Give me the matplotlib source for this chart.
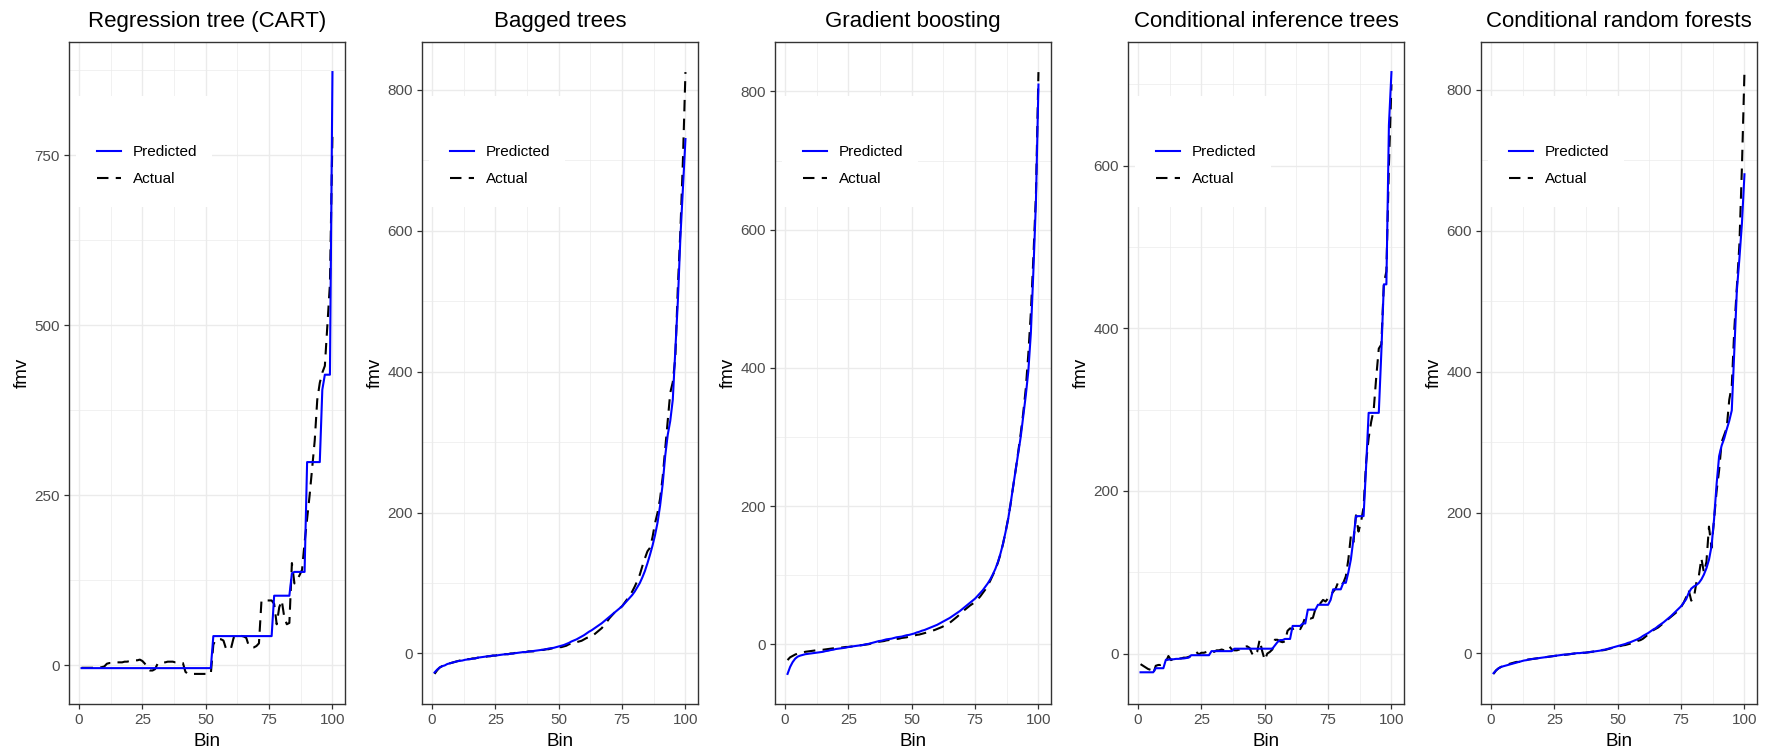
import matplotlib
matplotlib.use("Agg")
import matplotlib.pyplot as plt
from matplotlib.ticker import MultipleLocator
from matplotlib.lines import Line2D
from matplotlib.patches import Rectangle

plt.rcParams['font.family'] = ['Liberation Sans', 'DejaVu Sans']

bins = list(range(1, 101))

titles = ["Regression tree (CART)", "Bagged trees", "Gradient boosting",
          "Conditional inference trees", "Conditional random forests"]

cart_pred = ([-4.5] * 52 + [42.6] * 24 + [102] * 7 + [135] + [137] * 5 + [298.5] * 6
             + [405, 427, 427, 427, 872])
cart_act = [-4, -4, -4, -4, -4, -4, -4, -4, -3, -2,
            2, 3, 3, 3, 4, 4, 4, 5, 5, 6,
            6, 7, 7, 8, 6, 2, -5, -8, -8, -6,
            2, 4, 4, 4, 5, 5, 5, 4, 4, 3,
            3, -10, -13, -13, -13, -13, -13, -13, -13, -13,
            -13, -13, 30, 38, 38, 38, 36, 24, 22, 25,
            40, 43, 43, 43, 42, 40, 28, 26, 26, 28,
            32, 95, 95, 95, 95, 95, 90, 60, 85, 95,
            70, 60, 62, 150, 120, 125, 132, 140, 180, 215,
            250, 290, 330, 390, 415, 430, 440, 500, 560, 780]

bag_pred = [-27, -23, -20, -18, -17, -15, -14, -13, -12, -11,
            -10.5, -10, -9, -8.5, -8, -7.5, -7, -6, -5.5, -5,
            -4.5, -4, -3.5, -3, -3, -2.5, -2, -1.5, -1, -1,
            -0.5, 0, 0.5, 1, 1.5, 2, 2, 2.5, 3, 3.5,
            4, 4.5, 5, 5.5, 6, 7, 7.5, 8, 9, 10,
            11, 12, 13.5, 15, 17, 18.5, 20, 22, 24, 26,
            28.5, 31, 33, 35.5, 38, 40.5, 43, 46, 49, 52,
            55, 58, 61, 64, 67, 71, 75, 79, 83, 88,
            94, 100, 108, 117, 128, 140, 153, 168, 186, 210,
            240, 280, 310, 330, 360, 430, 500, 590, 660, 730]
bag_act = [-29, -24, -20, -18, -16, -15, -14, -13, -12, -11,
           -10, -10, -9, -8, -8, -7, -7, -6, -6, -5,
           -5, -4, -4, -3, -3, -2, -2, -2, -1, -1,
           0, 0, 1, 1, 1, 2, 2, 3, 3, 3,
           4, 4, 5, 5, 6, 6, 7, 7, 8, 9,
           9, 10, 11, 13, 14, 14, 16, 17, 18, 20,
           22, 23, 24, 27, 30, 33, 36, 41, 45, 50,
           54, 58, 61, 64, 67, 72, 77, 82, 88, 95,
           103, 112, 124, 135, 145, 150, 165, 185, 200, 220,
           250, 290, 330, 370, 385, 420, 520, 600, 700, 825]

gb_pred = [-43, -33, -26, -21, -18, -16.5, -15.5, -14.5, -14, -13.5,
           -13, -12.5, -12, -11.5, -11, -10, -9.5, -8.5, -8, -7,
           -6.5, -6, -5.5, -5, -4, -3.5, -3, -2.5, -2, -1.5,
           -1, 0, 0.5, 1.5, 2.5, 3.5, 4.5, 5, 6, 7,
           7.5, 8, 9, 10, 10.5, 11, 12, 13, 13.5, 14.5,
           15.5, 17, 18, 19.5, 20.5, 22, 23.5, 25, 26.5, 28,
           30, 32, 34, 36, 38, 40.5, 43, 45.5, 48, 51,
           54, 57, 60, 63, 66, 70, 74, 78, 83, 88,
           94, 101, 109, 119, 131, 145, 162, 180, 203, 228,
           252, 276, 300, 330, 360, 395, 450, 540, 640, 810]
gb_act = [-23, -19, -17, -15, -13.5, -12.5, -12, -11, -10.5, -10,
          -9.5, -9, -8.5, -8, -8, -7.5, -7, -6.5, -6, -5.5,
          -5, -5, -4.5, -4, -4, -3.5, -3, -2.5, -2, -1.5,
          -1, -0.5, 0, 1, 1.5, 2.5, 3.5, 4, 4.5, 5.5,
          6, 6.5, 7, 7.5, 8, 9, 9.5, 10, 11, 11.5,
          12.5, 13.5, 14, 15, 16, 17, 18, 19.5, 20.5, 22,
          23.5, 25, 27, 29, 31, 34, 37, 40, 43.5, 47,
          50, 53, 56, 58.5, 61, 65, 69, 74, 79, 85,
          92, 100, 108, 118, 130, 145, 162, 181, 203, 228,
          252, 278, 305, 335, 370, 420, 480, 560, 650, 828]

cit_pred = [-23, -23, -23, -23, -23, -23, -18, -18, -18, -18,
            -7.5, -7.5, -7, -7, -6.5, -6.5, -6, -6, -5.5, -5,
            -2, -2, -2, -2, -2, -2, -2, -2, 3, 3,
            3, 3, 3, 3, 3, 3, 3, 6, 6, 6,
            6, 6, 6, 6, 6, 6, 6, 6, 6, 6,
            6, 6, 6, 10, 14, 16.6, 16.6, 18, 18, 18,
            34, 34, 34, 34, 37, 37, 54, 54, 54, 54,
            60, 60, 60, 60, 60, 66, 79, 79, 79, 79,
            87, 87, 100, 116, 141, 169, 169, 169, 169, 230,
            296, 296, 296, 296, 296, 370, 454, 454, 650, 715]
cit_act = [-13, -15, -17, -19, -20, -25, -15, -14, -14, -13,
           -10, -3, -8, -7, -6, -6, -6, -5, -5, -4,
           -3, 0, 2, -1, 1, 1, 2, 2, 3, 2,
           4, 4, 5, 4, 6, 9, 5, 4, 4, 5,
           8, 8, 9, 7, 0, -3, 2, 17, 3, -8,
           0, 2, 5, 17, 17, 15, 14, 15, 28, 31,
           30, 32, 33, 30, 36, 45, 44, 43, 44, 55,
           58, 62, 66, 64, 68, 72, 76, 80, 88, 84,
           87, 95, 116, 145, 137, 170, 150, 162, 180, 235,
           265, 285, 300, 340, 375, 380, 455, 470, 600, 700]

crf_pred = [-28, -24, -21, -19, -18, -17, -16, -15, -14, -13,
            -12, -11, -10, -9.5, -8.5, -8, -7.5, -7, -6.5, -6,
            -5.5, -5, -4.5, -4, -3.5, -3, -2.5, -2, -1.5, -1.5,
            -1, -0.5, 0, 0.5, 0.5, 1, 1, 1.5, 2, 2.5,
            3, 3.5, 4, 5, 5.5, 6.5, 7.5, 8.5, 9.5, 10.5,
            11.5, 12.5, 13.5, 15, 16, 17.5, 19, 20.5, 22.5, 25,
            27, 29, 31.5, 34, 36, 39, 41.5, 44, 47, 50,
            53, 56.5, 60, 63.5, 67, 72, 77, 86, 92, 95,
            97, 100, 105, 112, 121, 133, 152, 190, 240, 280,
            295, 305, 318, 330, 345, 430, 515, 560, 610, 680]
crf_act = [-29, -24, -21, -19, -18, -16, -15, -14, -13, -12,
           -12, -11, -10, -9, -8.5, -8, -7.5, -7, -6.5, -6,
           -5.5, -5, -4.5, -4, -3.5, -3, -2.5, -2, -2, -1.5,
           -1, -0.5, 0, 0, 0.5, 1, 1, 1.5, 2, 2.5,
           3, 3.5, 4, 4.5, 5, 6, 7, 8, 9, 10,
           10.5, 11.5, 12, 13, 14, 15.5, 16, 18, 19, 21,
           24, 27, 30, 33, 35, 37, 40, 43, 46, 49,
           52, 55, 58, 61, 66, 72, 80, 90, 75, 78,
           100, 110, 135, 115, 130, 180, 150, 190, 230, 260,
           300, 310, 320, 360, 380, 460, 520, 580, 690, 825]

predicted = [cart_pred, bag_pred, gb_pred, cit_pred, crf_pred]
actual = [cart_act, bag_act, gb_act, cit_act, crf_act]
y_major = [250, 200, 200, 200, 200]

W, H = 1773, 749
fig = plt.figure(figsize=(W / 100, H / 100), dpi=100)
fig.patch.set_facecolor('white')

lefts = [69, 422, 775, 1128, 1481]
aw, top, bottom = 276, 42, 704
LW = 1.5
DASH = (5.5, 3.5)

for i in range(5):
    ax = fig.add_axes([lefts[i] / W, (H - bottom) / H, aw / W, (bottom - top) / H])
    ax.plot(bins, actual[i], color='black', lw=LW, dashes=DASH, zorder=3)
    ax.plot(bins, predicted[i], color='#0000FF', lw=LW, zorder=4)
    ax.margins(0.05)
    ax.xaxis.set_major_locator(MultipleLocator(25))
    ax.xaxis.set_minor_locator(MultipleLocator(12.5))
    ax.yaxis.set_major_locator(MultipleLocator(y_major[i]))
    ax.yaxis.set_minor_locator(MultipleLocator(y_major[i] / 2))
    ax.grid(True, which='major', color='#EBEBEB', lw=1.0, zorder=0)
    ax.grid(True, which='minor', color='#EBEBEB', lw=0.5, zorder=0)
    ax.set_axisbelow(True)
    for s in ax.spines.values():
        s.set_color('#333333')
        s.set_linewidth(1.0)
    ax.tick_params(which='major', length=3.5, width=0.9, color='#333333',
                   labelcolor='#4D4D4D', labelsize=11, pad=3)
    ax.tick_params(which='minor', length=0)
    ax.set_title(titles[i], fontsize=16, pad=11, color='black')
    ax.set_xlabel('Bin', fontsize=13.5, labelpad=4)
    ax.set_ylabel('fmv', fontsize=13.5, labelpad=3)
    ax.add_patch(Rectangle((7 / aw, 1 - 165 / 662), 136 / aw, 111 / 662,
                           transform=ax.transAxes, facecolor='white',
                           edgecolor='none', zorder=2))
    handles = [Line2D([], [], color='#0000FF', lw=LW),
               Line2D([], [], color='black', lw=LW, dashes=DASH)]
    ax.legend(handles, ['Predicted', 'Actual'], loc='center left',
              bbox_to_anchor=(28 / aw, 1 - 123.5 / 662), frameon=False,
              borderpad=0, borderaxespad=0, handlelength=1.6,
              handletextpad=0.75, labelspacing=0.85, fontsize=11)

fig.savefig('out.png', dpi=100, facecolor='white')
